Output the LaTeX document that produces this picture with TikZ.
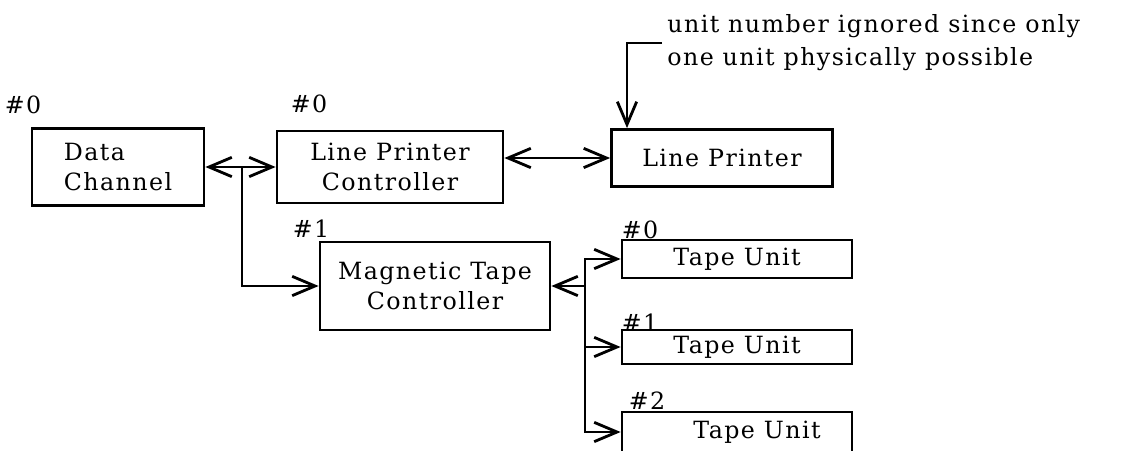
\documentclass[tikz,border=0pt]{standalone}
\usepackage{fontspec}
\setmainfont{DejaVu Serif}[LetterSpace=6]
\usetikzlibrary{arrows.meta}
\tikzset{
  barb/.tip={Straight Barb[length=13pt,width=11pt]},
  unitbox/.style={draw, line width=1.6pt, inner sep=0pt, align=center,
    font=\fontsize{13.5}{17}\selectfont},
  tag/.style={inner sep=0pt, font=\fontsize{13.5}{17}\selectfont},
  link/.style={line width=1.6pt},
}
\begin{document}
\begin{tikzpicture}[x=0.02cm, y=-0.02cm]
\useasboundingbox (0,0) rectangle (1133,450);
\clip (0,0) rectangle (1133,450);

% units
\node[unitbox, minimum width=3.44cm, minimum height=1.54cm, align=left] (dc) at (118,167) {Data\\Channel};
\node[unitbox, minimum width=4.52cm, minimum height=1.44cm] (lpc) at (390,167) {Line Printer\\Controller};
\node[unitbox, minimum width=4.42cm, minimum height=1.14cm] (lp) at (722,158) {Line Printer};
\node[unitbox, minimum width=4.60cm, minimum height=1.76cm] (mtc) at (435,286) {Magnetic Tape\\Controller};
\node[unitbox, minimum width=4.60cm, minimum height=0.76cm] (tu0) at (737,259) {Tape Unit};
\node[unitbox, minimum width=4.60cm, minimum height=0.68cm] (tu1) at (737,347) {Tape Unit};
\node[unitbox, minimum width=4.60cm, minimum height=0.80cm] (tu2) at (737,432) {\hspace*{0.8cm}Tape Unit};

% unit numbers
\node[tag] (ndc)  at (23,105)  {\#0};
\node[tag] (nlpc) at (309,104) {\#0};
\node[tag] (nmtc) at (311,229) {\#1};
\node[tag] (ntu0) at (640,230) {\#0};
\node[tag] (ntu1) at (640,323) {\#1};
\node[tag] (ntu2) at (647,401) {\#2};

% data channel bus
\coordinate (j1) at (242,167);
\draw[link, barb-barb] (dc.east) -- (lpc.west);
\draw[link, -barb] (j1) |- (mtc.west);
\draw[link, barb-barb] (lpc.east |- lp.west) -- (lp.west);

% tape bus
\coordinate (j2) at (585,286);
\draw[link, -barb] (j2) -- (mtc.east);
\draw[link, -barb] (j2) |- (tu0.west);
\draw[link, -barb] (j2) |- (tu1.west);
\draw[link, -barb] (j2) |- (tu2.west);

% note on the line printer
\node[inner sep=0pt, anchor=north west, align=left, font=\fontsize{13.5}{18.7}\selectfont] (note) at (667,14)
  {unit number ignored since only\\one unit physically possible};
\coordinate (tail) at (662,43);
\coordinate (bend) at (627,43);
\draw[link, -barb] (tail) -- (bend) -- (bend |- lp.north);
\end{tikzpicture}
\end{document}
